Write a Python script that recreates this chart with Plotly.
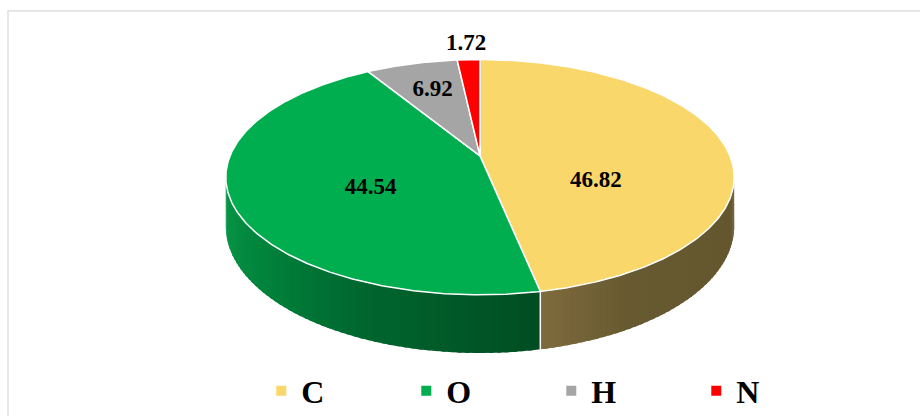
import numpy as np
import plotly.graph_objects as go

# ---------------- data ----------------
elements = ["C", "O", "H", "N"]
values = [46.82, 44.54, 6.92, 1.72]
value_labels = ["46.82", "44.54", "6.92", "1.72"]

# ---------------- style ----------------
top_colors = ["#F9D76A", "#00AE50", "#A5A5A5", "#FF0000"]
# side shading stops (angle in degrees clockwise from 12 o'clock, rgb)
side_stops = {
    "C": [(95, (98, 85, 45)), (150, (103, 89, 48)), (170, (128, 108, 62))],
    "O": [(165, (0, 74, 33)), (200, (0, 100, 45)), (230, (0, 132, 60)), (262, (12, 154, 72))],
    "H": [(0, (90, 90, 90)), (360, (90, 90, 90))],
    "N": [(0, (140, 0, 0)), (360, (140, 0, 0))],
}
# label placement: radial fraction and vertical shift (px)
label_r = [0.47, 0.455, 0.66, 1.25]
label_dy = [31, 13, -2, 4]

CX, CY, RX, RY, K, DEPTH = 480.0, 157.0, 250.0, 114.6, 0.181, 48.0
FONT = "Liberation Serif"


def proj(theta_deg, r=1.0):
    t = np.radians(theta_deg)
    u = r * np.sin(t)
    v = -r * np.cos(t)
    s = 1.0 / (1.0 - K * v)
    return CX + RX * u * s, CY + RY * v * s, s


def interp_color(stops, th):
    angs = [a for a, _ in stops]
    cols = np.array([c for _, c in stops], dtype=float)
    rgb = [np.interp(th, angs, cols[:, j]) for j in range(3)]
    return "rgb(%d,%d,%d)" % tuple(int(round(x)) for x in rgb)


total = sum(values)
bounds = np.concatenate([[0], np.cumsum(values) / total * 360.0])

fig = go.Figure()

# ---- side walls (front, visible half) ----
vis_lo = np.degrees(np.arccos(-K))
vis_hi = 360.0 - vis_lo
STEP, OVERLAP = 1.5, 0.8
for i, el in enumerate(elements):
    a, b = max(bounds[i], vis_lo), min(bounds[i + 1], vis_hi)
    if b <= a:
        continue
    n = int(np.ceil((b - a) / STEP))
    edges = np.linspace(a, b, n + 1)
    for j in range(n):
        t1 = min(edges[j + 1] + OVERLAP, b)
        th = np.linspace(edges[j], t1, 4)
        xt, yt, s = proj(th)
        yb = yt + DEPTH * s
        xs = np.concatenate([xt, xt[::-1], [xt[0]]])
        ys = np.concatenate([yt, yb[::-1], [yt[0]]])
        col = interp_color(side_stops[el], (edges[j] + edges[j + 1]) / 2)
        fig.add_trace(go.Scatter(x=xs, y=ys, mode="lines", fill="toself",
                                 fillcolor=col, line=dict(color=col, width=0),
                                 hoverinfo="skip", showlegend=False))

# white separator lines on the wall at slice boundaries
for bnd in bounds[1:-1]:
    if vis_lo < bnd < vis_hi:
        xt, yt, s = proj(np.array([bnd]))
        fig.add_trace(go.Scatter(x=[xt[0], xt[0]], y=[yt[0], yt[0] + DEPTH * s[0]],
                                 mode="lines", line=dict(color="white", width=1.5),
                                 hoverinfo="skip", showlegend=False))

# ---- top faces ----
for i, el in enumerate(elements):
    th = np.linspace(bounds[i], bounds[i + 1], max(3, int((bounds[i + 1] - bounds[i]) / 0.5)))
    xt, yt, _ = proj(th)
    xs = np.concatenate([[CX], xt, [CX]])
    ys = np.concatenate([[CY], yt, [CY]])
    fig.add_trace(go.Scatter(x=xs, y=ys, mode="lines", fill="toself",
                             fillcolor=top_colors[i], line=dict(color="white", width=1.5),
                             hoverinfo="skip", showlegend=False, name=el))

# ---- data labels ----
lx, ly = [], []
for i in range(len(values)):
    mid = (bounds[i] + bounds[i + 1]) / 2
    x, y, _ = proj(mid, label_r[i])
    lx.append(float(x))
    ly.append(float(y) + label_dy[i])
fig.add_trace(go.Scatter(x=lx, y=ly, mode="text", text=value_labels,
                         textfont=dict(family=FONT, size=23, color="black", weight="bold"),
                         hoverinfo="skip", showlegend=False))

# ---- legend entries ----
for i, el in enumerate(elements):
    fig.add_trace(go.Scatter(x=[None], y=[None], mode="markers", name=el,
                             marker=dict(symbol="square", size=10, color=top_colors[i]),
                             showlegend=True))

fig.add_shape(type="rect", x0=8, y0=11, x1=940, y1=440, xref="x", yref="y",
              line=dict(color="#D9D9D9", width=1.2), layer="below")

fig.update_layout(
    width=920, height=419,
    margin=dict(l=0, r=0, t=0, b=0),
    paper_bgcolor="white", plot_bgcolor="white",
    xaxis=dict(range=[0, 920], visible=False, fixedrange=True),
    yaxis=dict(range=[419, 0], visible=False, fixedrange=True),
    legend=dict(orientation="h", x=0.284, xanchor="left", y=0.06, yanchor="middle",
                font=dict(family=FONT, size=32, color="black", weight="bold"),
                entrywidth=100, itemwidth=30, bgcolor="rgba(0,0,0,0)"),
    showlegend=True,
)

fig.write_html("out.html")
